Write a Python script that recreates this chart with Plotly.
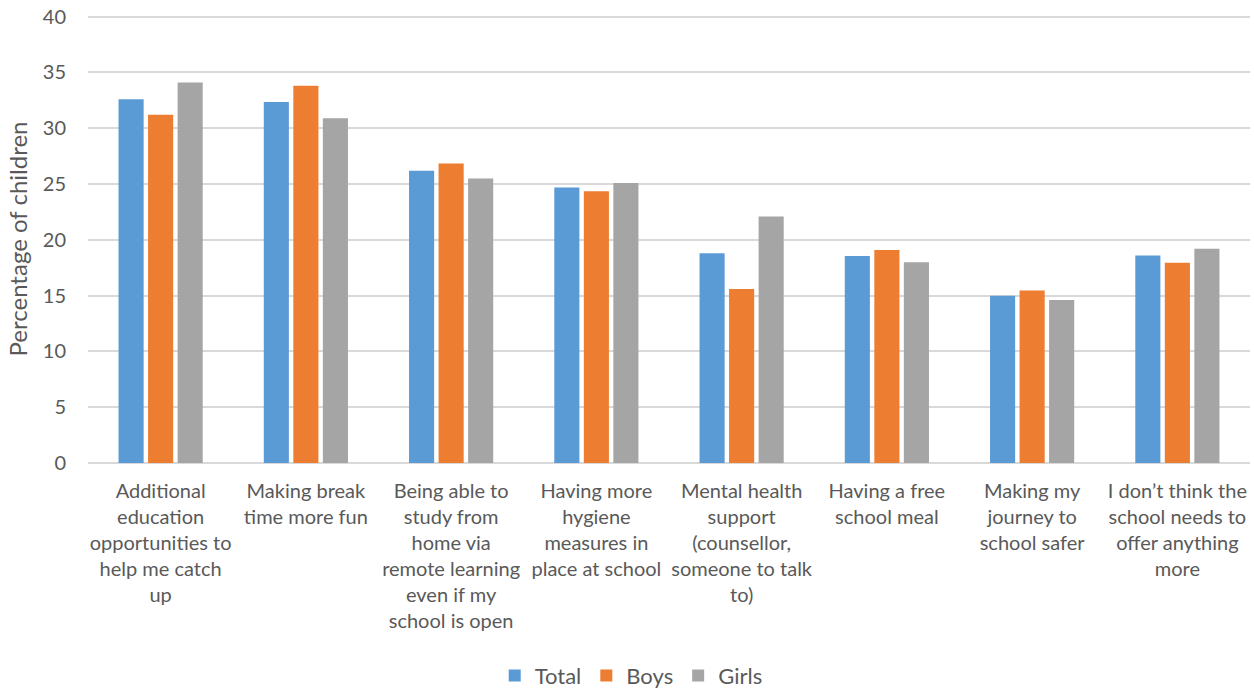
import plotly.graph_objects as go

categories = [
    "Additional<br>education<br>opportunities to<br>help me catch<br>up",
    "Making break<br>time more fun",
    "Being able to<br>study from<br>home via<br>remote learning<br>even if my<br>school is open",
    "Having more<br>hygiene<br>measures in<br>place at school",
    "Mental health<br>support<br>(counsellor,<br>someone to talk<br>to)",
    "Having a free<br>school meal",
    "Making my<br>journey to<br>school safer",
    "I don\u2019t think the<br>school needs to<br>offer anything<br>more",
]
total = [32.6, 32.35, 26.2, 24.7, 18.8, 18.55, 15.0, 18.6]
boys = [31.2, 33.8, 26.85, 24.35, 15.6, 19.1, 15.45, 17.95]
girls = [34.1, 30.9, 25.5, 25.1, 22.1, 18.0, 14.6, 19.2]
y_ticks = [0, 5, 10, 15, 20, 25, 30, 35, 40]

series = [("Total", total, "#5b9bd5"), ("Boys", boys, "#ed7d31"), ("Girls", girls, "#a5a5a5")]

font = "Lato, Open Sans, sans-serif"
fig = go.Figure()
for name, vals, color in series:
    fig.add_trace(go.Bar(x=list(range(len(categories))), y=vals, name=name,
                         marker=dict(color=color, line=dict(width=0))))

fig.update_layout(
    width=1254, height=688,
    paper_bgcolor="white", plot_bgcolor="white",
    margin=dict(l=88, r=4, t=15, b=225, autoexpand=False),
    barmode="group", bargap=0.39, bargroupgap=0.15,
    font=dict(family=font, color="#595959", size=18),
    legend=dict(orientation="h", x=0.35, xanchor="left", y=-0.475, yanchor="middle",
                font=dict(size=22, color="#595959"), itemwidth=30, traceorder="normal"),
    xaxis=dict(tickmode="array", tickvals=list(range(len(categories))), ticktext=categories,
               showline=False, showgrid=False, ticks="",
               tickfont=dict(size=20, color="#595959", family="Liberation Sans Narrow, Lato, sans-serif"),
               tickangle=0, range=[-0.5, 7.5],
               automargin=False, ticklabelstandoff=14),
    yaxis=dict(range=[0, 40.15], tickmode="array", tickvals=y_ticks, ticktext=[str(v) for v in y_ticks],
               showgrid=True, gridcolor="#d9d9d9", gridwidth=1.5,
               zeroline=True, zerolinecolor="#d9d9d9", zerolinewidth=1.5,
               ticks="", tickfont=dict(size=20, color="#595959"),
               automargin=False, ticklabelstandoff=21,
               title=dict(text="Percentage of children", font=dict(size=24, color="#595959"), standoff=8)),
)
fig.write_html("out.html", config={"displayModeBar": False},
               post_script="document.body.style.margin='0px';document.body.style.overflow='hidden';")
